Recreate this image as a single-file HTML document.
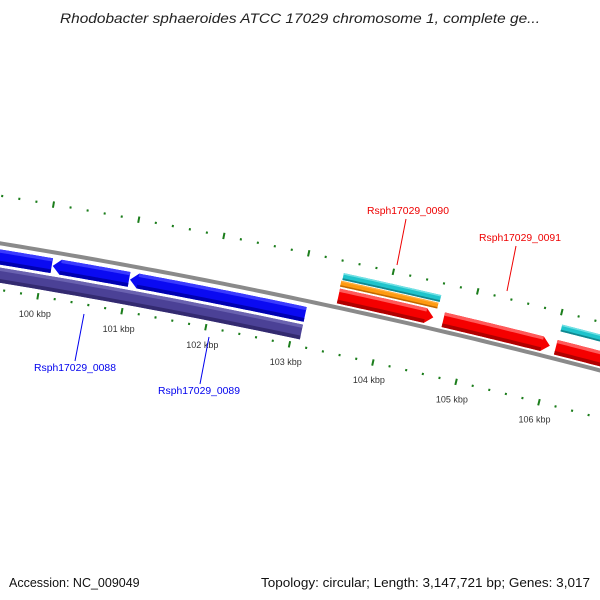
<!DOCTYPE html>
<html><head><meta charset="utf-8"><style>
html,body{margin:0;padding:0;background:#fff}
svg{display:block}
</style></head><body>
<svg id="map" width="600" height="600" viewBox="0 0 600 600" xmlns="http://www.w3.org/2000/svg">
<text x="300" y="23" text-anchor="middle" font-family="Liberation Sans, sans-serif" font-style="italic" font-size="13.5" fill="#222" textLength="480" lengthAdjust="spacingAndGlyphs">Rhodobacter sphaeroides ATCC 17029 chromosome 1, complete ge...</text>
<text x="9" y="587" font-family="Liberation Sans, sans-serif" font-size="12.5" fill="#111">Accession: NC_009049</text>
<text x="590" y="587" text-anchor="end" font-family="Liberation Sans, sans-serif" font-size="13" fill="#111" textLength="329" lengthAdjust="spacingAndGlyphs">Topology: circular; Length: 3,147,721 bp; Genes: 3,017</text>
<g id="layer"></g>
</svg>
<script>
// ---- data ----
const tickStart = 99000;
const tickEnd = 107600;
const majorTickStep = 1000;
const minorTickStep = 200;
const reverseGeneStarts = [97000, 100111, 101026];
const reverseGeneEnds = [100100, 101015, 103107];
const reverseGeneNames = ['', 'Rsph17029_0088', 'Rsph17029_0089'];
const purpleStarts = [96000];
const purpleEnds = [103107];
const forwardGeneStarts = [103440, 104688, 106032];
const forwardGeneEnds = [104569, 105961, 107800];
const forwardGeneNames = ['Rsph17029_0090', 'Rsph17029_0091', ''];
const orangeStarts = [103435];
const orangeEnds = [104590];
const cyanStarts = [103445, 106040];
const cyanEnds = [104600, 107800];

// ---- geometry ----
const NS = 'http://www.w3.org/2000/svg';
const R = 6500, PX_PER_KBP = 86, BP_MID = 103012;
const th = Math.atan(0.2117);
const nx = Math.sin(th), ny = -Math.cos(th);
const CX = 300 - nx * R, CY = 299.5 - ny * R;
const PHI_MID = Math.atan2(ny, nx);
function phi(bp){ return PHI_MID + (bp - BP_MID) / 1000 * PX_PER_KBP / R; }
function pos(bp, off){ const a = phi(bp), r = R + off; return [CX + r*Math.cos(a), CY + r*Math.sin(a)]; }
const layer = document.getElementById('layer');
function mk(tag, attrs){ const e = document.createElementNS(NS, tag); for (const k in attrs) e.setAttribute(k, attrs[k]); layer.appendChild(e); return e; }
function bandPts(s, e, r0, r1, head){
  const hl = 8 * 1000 / PX_PER_KBP, mid = (r0 + r1) / 2, pts = [];
  let a = s, b = e;
  if (head === 1) b = e - hl;
  if (head === -1) a = s + hl;
  const n = 40;
  for (let i = 0; i <= n; i++){ pts.push(pos(a + (b - a) * i / n, r1)); }
  if (head === 1) pts.push(pos(e, mid));
  for (let i = n; i >= 0; i--){ pts.push(pos(a + (b - a) * i / n, r0)); }
  if (head === -1) pts.push(pos(s, mid));
  return pts.map(p => p[0].toFixed(2) + ',' + p[1].toFixed(2)).join(' ');
}
function band(s, e, r0, r1, head, fill, light, dark, name){
  const g = document.createElementNS(NS, 'g');
  
  
  layer.appendChild(g);
  const p1 = document.createElementNS(NS, 'polygon');
  p1.setAttribute('points', bandPts(s, e, r0, r1, head)); p1.setAttribute('fill', fill); g.appendChild(p1);
  const h = r1 - r0;
  const hl = head ? 8 * 1000 / PX_PER_KBP : 0;
  const s2 = head === -1 ? s + hl : s, e2 = head === 1 ? e - hl : e;
  const p2 = document.createElementNS(NS, 'polygon');
  p2.setAttribute('points', bandPts(s2, e2, r0, r0 + h*0.25, 0)); p2.setAttribute('fill', dark); g.appendChild(p2);
  const p3 = document.createElementNS(NS, 'polygon');
  p3.setAttribute('points', bandPts(s2, e2, r1 - h*0.22, r1, 0)); p3.setAttribute('fill', light); g.appendChild(p3);
}

// backbone
{
  const pts = [];
  for (let bp = 95000; bp <= 109000; bp += 100) pts.push(pos(bp, 0));
  const pl = mk('polyline', {points: pts.map(p => p[0].toFixed(2)+','+p[1].toFixed(2)).join(' '), fill:'none', stroke:'#8a8a8a', 'stroke-width':4});
  
  
}

// ticks
for (let bp = tickStart; bp <= tickEnd; bp += minorTickStep){
  const major = bp % majorTickStep === 0;
  const len = major ? 3.2 : 1.1;
  [[-46, 'lower'], [47, 'upper']].forEach(([off, row]) => {
    const a = pos(bp, off - len), b = pos(bp, off + len);
    const l = mk('line', {x1:a[0], y1:a[1], x2:b[0], y2:b[1], stroke:'#1b7d1b', 'stroke-width': 2});
    
    
  });
  if (major){
    const p = pos(bp, -64);
    const t = mk('text', {x:p[0], y:p[1]+3, 'text-anchor':'middle', 'font-family':'Liberation Sans, sans-serif', 'font-size':9, fill:'#333'});
    t.textContent = (bp/1000) + ' kbp';
    
    
  }
}

// features
purpleStarts.forEach((s, i) => band(s, purpleEnds[i], -39, -24, 0, '#4b4196', '#6a62b0', '#332a70', 'feature-purple'));
reverseGeneStarts.forEach((s, i) => band(s, reverseGeneEnds[i], -21, -6, -1, '#0a0af2', '#3a3aff', '#0000b0', 'reverse-gene'));
forwardGeneStarts.forEach((s, i) => band(s, forwardGeneEnds[i], 4, 19, 1, '#f50000', '#ff5a5a', '#b00000', 'forward-gene'));
orangeStarts.forEach((s, i) => band(s, orangeEnds[i], 21, 27, 0, '#ff9a10', '#ffb040', '#c06800', 'feature-orange'));
cyanStarts.forEach((s, i) => band(s, cyanEnds[i], 28, 35, 0, '#1fc4cc', '#70e0e4', '#118890', 'feature-cyan'));

// gene labels
const labelX = [75, 199, 408, 520];
const labelY = [371, 394, 214, 241];
const lineFrom = [[84,314],[209,337],[397,265],[507,291]];
const lineTo = [[75,361],[200,384],[406,219],[516,246]];
const labelNames = ['Rsph17029_0088','Rsph17029_0089','Rsph17029_0090','Rsph17029_0091'];
const labelColors = ['#0000ee','#0000ee','#ee0000','#ee0000'];
labelNames.forEach((nm, i) => {
  const ln = mk('line', {x1: lineFrom[i][0], y1: lineFrom[i][1], x2: lineTo[i][0], y2: lineTo[i][1], stroke: labelColors[i], 'stroke-width': 1});
  
  
  const t = mk('text', {x: labelX[i], y: labelY[i], 'text-anchor':'middle', 'font-family':'Liberation Sans, sans-serif', 'font-size':10.5, fill: labelColors[i], textLength: 82, lengthAdjust:'spacingAndGlyphs'});
  t.textContent = nm;
  
  
});
</script>
</body></html>
